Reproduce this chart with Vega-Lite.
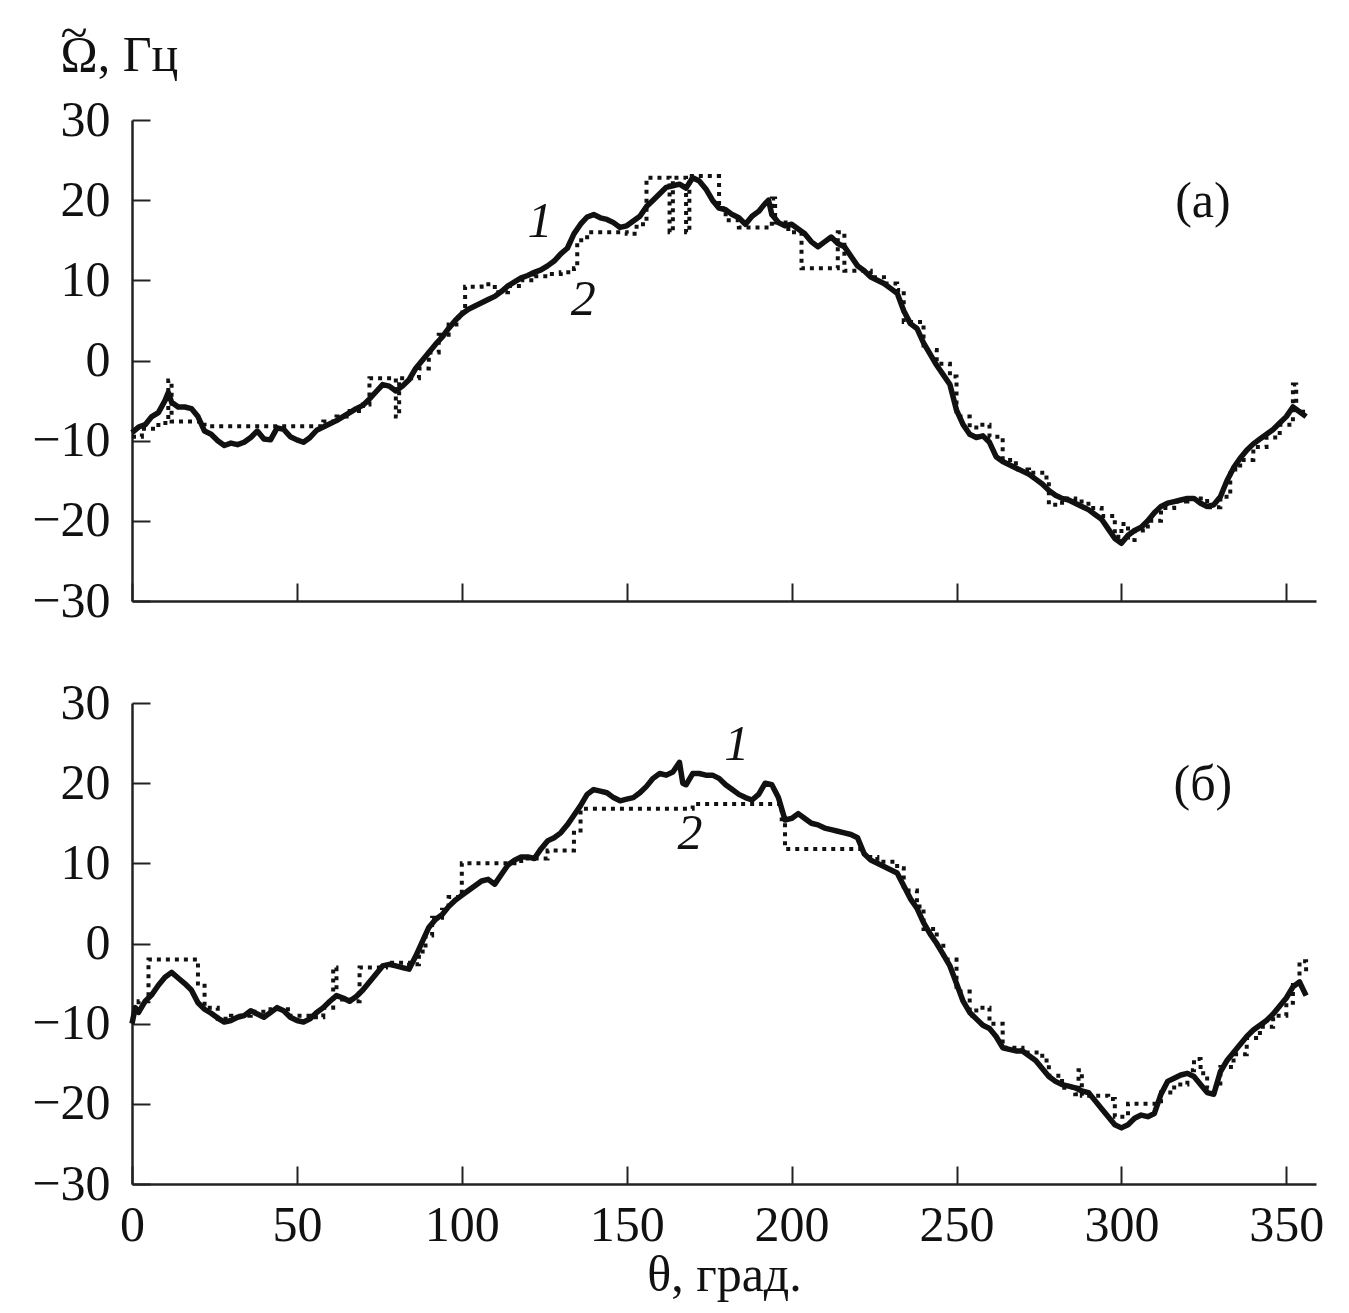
{
  "$schema": "https://vega.github.io/schema/vega-lite/v6.json",
  "padding": {"left": 31, "top": 8, "right": 5, "bottom": 5},
  "background": "white",
  "bounds": "flush",
  "spacing": 102,
  "config": {
    "view": {"stroke": null},
    "axis": {
      "labelFont": "Liberation Serif", "labelFontSize": 50, "labelColor": "#111", "labelFlush": false,
      "titleFont": "Liberation Serif", "titleFontSize": 50, "titleFontWeight": "normal", "titleColor": "#111",
      "domainColor": "#222", "domainWidth": 2.5, "tickColor": "#222", "tickWidth": 2, "tickSize": -18,
      "labelPadding": 40, "grid": false
    },
    "text": {"font": "Liberation Serif", "fontSize": 50, "color": "#111"}
  },
  "datasets": {
    "a1": [
      {"theta":0,"omega":-9.0},{"theta":2,"omega":-8.3},{"theta":4,"omega":-8.0},{"theta":6,"omega":-7.0},{"theta":8,"omega":-6.5},{"theta":10,"omega":-5.0},{"theta":11,"omega":-4.0},{"theta":12,"omega":-5.2},{"theta":14,"omega":-5.8},{"theta":16,"omega":-5.8},{"theta":18,"omega":-6.0},{"theta":20,"omega":-7.0},{"theta":22,"omega":-8.8},{"theta":24,"omega":-9.2},{"theta":26,"omega":-10.0},{"theta":28,"omega":-10.6},{"theta":30,"omega":-10.3},{"theta":32,"omega":-10.5},{"theta":34,"omega":-10.2},{"theta":36,"omega":-9.6},{"theta":38,"omega":-8.8},{"theta":40,"omega":-9.8},{"theta":42,"omega":-9.9},{"theta":44,"omega":-8.4},{"theta":46,"omega":-8.6},{"theta":48,"omega":-9.5},{"theta":50,"omega":-9.9},{"theta":52,"omega":-10.2},{"theta":54,"omega":-9.6},{"theta":56,"omega":-8.7},{"theta":58,"omega":-8.3},{"theta":60,"omega":-7.9},{"theta":62,"omega":-7.5},{"theta":64,"omega":-7.0},{"theta":66,"omega":-6.5},{"theta":68,"omega":-6.0},{"theta":70,"omega":-5.6},{"theta":72,"omega":-4.8},{"theta":74,"omega":-3.9},{"theta":76,"omega":-3.0},{"theta":78,"omega":-3.2},{"theta":80,"omega":-3.8},{"theta":82,"omega":-3.2},{"theta":84,"omega":-2.4},{"theta":86,"omega":-1.0},{"theta":88,"omega":0.0},{"theta":90,"omega":1.0},{"theta":92,"omega":2.0},{"theta":94,"omega":2.9},{"theta":96,"omega":4.0},{"theta":98,"omega":5.0},{"theta":100,"omega":5.8},{"theta":102,"omega":6.4},{"theta":104,"omega":6.8},{"theta":106,"omega":7.2},{"theta":108,"omega":7.6},{"theta":110,"omega":8.0},{"theta":112,"omega":8.6},{"theta":114,"omega":9.3},{"theta":116,"omega":9.8},{"theta":118,"omega":10.3},{"theta":120,"omega":10.6},{"theta":122,"omega":11.0},{"theta":124,"omega":11.3},{"theta":126,"omega":11.8},{"theta":128,"omega":12.4},{"theta":130,"omega":13.3},{"theta":132,"omega":14.0},{"theta":134,"omega":15.8},{"theta":136,"omega":17.0},{"theta":138,"omega":17.9},{"theta":140,"omega":18.2},{"theta":142,"omega":17.8},{"theta":144,"omega":17.6},{"theta":146,"omega":17.2},{"theta":148,"omega":16.6},{"theta":150,"omega":16.8},{"theta":152,"omega":17.4},{"theta":154,"omega":18.0},{"theta":156,"omega":19.2},{"theta":158,"omega":20.0},{"theta":160,"omega":20.8},{"theta":162,"omega":21.6},{"theta":164,"omega":21.8},{"theta":166,"omega":22.0},{"theta":168,"omega":21.5},{"theta":170,"omega":22.8},{"theta":172,"omega":22.4},{"theta":174,"omega":21.4},{"theta":176,"omega":20.0},{"theta":178,"omega":19.0},{"theta":180,"omega":18.8},{"theta":182,"omega":18.2},{"theta":184,"omega":17.8},{"theta":186,"omega":17.0},{"theta":188,"omega":18.0},{"theta":190,"omega":18.6},{"theta":192,"omega":19.6},{"theta":193,"omega":20.0},{"theta":194,"omega":18.2},{"theta":196,"omega":17.2},{"theta":198,"omega":16.8},{"theta":200,"omega":17.0},{"theta":202,"omega":16.4},{"theta":204,"omega":15.8},{"theta":206,"omega":14.8},{"theta":208,"omega":14.2},{"theta":210,"omega":14.8},{"theta":212,"omega":15.4},{"theta":214,"omega":14.6},{"theta":216,"omega":14.2},{"theta":218,"omega":13.0},{"theta":220,"omega":11.8},{"theta":222,"omega":11.2},{"theta":224,"omega":10.4},{"theta":226,"omega":10.0},{"theta":228,"omega":9.6},{"theta":230,"omega":9.0},{"theta":232,"omega":8.4},{"theta":234,"omega":6.2},{"theta":236,"omega":4.6},{"theta":238,"omega":4.0},{"theta":240,"omega":2.2},{"theta":242,"omega":0.8},{"theta":244,"omega":-0.6},{"theta":246,"omega":-1.8},{"theta":248,"omega":-3.0},{"theta":250,"omega":-6.2},{"theta":252,"omega":-8.0},{"theta":254,"omega":-9.2},{"theta":256,"omega":-9.6},{"theta":258,"omega":-9.4},{"theta":260,"omega":-10.2},{"theta":262,"omega":-12.0},{"theta":264,"omega":-12.6},{"theta":266,"omega":-13.0},{"theta":268,"omega":-13.4},{"theta":270,"omega":-13.8},{"theta":272,"omega":-14.2},{"theta":274,"omega":-14.8},{"theta":276,"omega":-15.4},{"theta":278,"omega":-16.2},{"theta":280,"omega":-16.8},{"theta":282,"omega":-17.2},{"theta":284,"omega":-17.4},{"theta":286,"omega":-17.8},{"theta":288,"omega":-18.2},{"theta":290,"omega":-18.6},{"theta":292,"omega":-19.2},{"theta":294,"omega":-19.8},{"theta":296,"omega":-21.0},{"theta":298,"omega":-22.2},{"theta":300,"omega":-22.8},{"theta":302,"omega":-21.8},{"theta":304,"omega":-21.2},{"theta":306,"omega":-20.8},{"theta":308,"omega":-20.0},{"theta":310,"omega":-19.0},{"theta":312,"omega":-18.2},{"theta":314,"omega":-17.8},{"theta":316,"omega":-17.6},{"theta":318,"omega":-17.4},{"theta":320,"omega":-17.2},{"theta":322,"omega":-17.2},{"theta":324,"omega":-17.8},{"theta":326,"omega":-18.2},{"theta":328,"omega":-18.0},{"theta":330,"omega":-17.0},{"theta":332,"omega":-15.0},{"theta":334,"omega":-13.4},{"theta":336,"omega":-12.2},{"theta":338,"omega":-11.2},{"theta":340,"omega":-10.4},{"theta":342,"omega":-9.8},{"theta":344,"omega":-9.2},{"theta":346,"omega":-8.6},{"theta":348,"omega":-7.8},{"theta":350,"omega":-7.0},{"theta":352,"omega":-5.8},{"theta":354,"omega":-6.4},{"theta":356,"omega":-7.0}
    ],
    "a2": [
      {"theta":0,"omega":-9.5},{"theta":3,"omega":-8.5},{"theta":8,"omega":-7.8},{"theta":11,"omega":-2.5},{"theta":12,"omega":-7.6},{"theta":20,"omega":-7.6},{"theta":22,"omega":-8.2},{"theta":55,"omega":-8.2},{"theta":58,"omega":-7.6},{"theta":62,"omega":-7.0},{"theta":66,"omega":-6.3},{"theta":70,"omega":-5.5},{"theta":72,"omega":-2.2},{"theta":78,"omega":-2.2},{"theta":80,"omega":-7.0},{"theta":81,"omega":-2.2},{"theta":85,"omega":-2.2},{"theta":87,"omega":-1.0},{"theta":90,"omega":1.0},{"theta":93,"omega":3.2},{"theta":96,"omega":4.5},{"theta":99,"omega":6.0},{"theta":101,"omega":9.2},{"theta":106,"omega":9.5},{"theta":110,"omega":8.5},{"theta":114,"omega":9.3},{"theta":118,"omega":10.0},{"theta":122,"omega":10.5},{"theta":126,"omega":10.8},{"theta":130,"omega":11.0},{"theta":134,"omega":11.5},{"theta":135,"omega":15.0},{"theta":138,"omega":16.0},{"theta":150,"omega":15.8},{"theta":153,"omega":17.0},{"theta":156,"omega":22.8},{"theta":163,"omega":16.0},{"theta":164,"omega":22.8},{"theta":168,"omega":16.0},{"theta":169,"omega":23.0},{"theta":176,"omega":23.0},{"theta":178,"omega":19.0},{"theta":180,"omega":17.5},{"theta":184,"omega":16.6},{"theta":192,"omega":16.6},{"theta":194,"omega":20.2},{"theta":195,"omega":17.2},{"theta":199,"omega":16.0},{"theta":203,"omega":11.5},{"theta":212,"omega":11.5},{"theta":214,"omega":16.0},{"theta":216,"omega":11.2},{"theta":220,"omega":11.2},{"theta":224,"omega":10.4},{"theta":228,"omega":9.6},{"theta":232,"omega":8.8},{"theta":234,"omega":4.8},{"theta":238,"omega":4.8},{"theta":240,"omega":1.3},{"theta":244,"omega":-0.4},{"theta":248,"omega":-2.0},{"theta":250,"omega":-7.0},{"theta":254,"omega":-9.5},{"theta":256,"omega":-8.0},{"theta":260,"omega":-9.5},{"theta":264,"omega":-12.4},{"theta":268,"omega":-13.6},{"theta":272,"omega":-14.0},{"theta":276,"omega":-14.6},{"theta":278,"omega":-18.0},{"theta":282,"omega":-17.2},{"theta":286,"omega":-17.6},{"theta":290,"omega":-18.4},{"theta":294,"omega":-19.4},{"theta":298,"omega":-22.0},{"theta":300,"omega":-20.4},{"theta":302,"omega":-22.4},{"theta":304,"omega":-21.2},{"theta":308,"omega":-20.0},{"theta":312,"omega":-18.4},{"theta":316,"omega":-17.6},{"theta":320,"omega":-17.2},{"theta":326,"omega":-18.3},{"theta":330,"omega":-17.0},{"theta":333,"omega":-13.6},{"theta":336,"omega":-12.4},{"theta":340,"omega":-10.8},{"theta":344,"omega":-9.6},{"theta":348,"omega":-8.0},{"theta":352,"omega":-3.0},{"theta":353,"omega":-6.4},{"theta":356,"omega":-6.8}
    ],
    "b1": [
      {"theta":0,"omega":-10.0},{"theta":1,"omega":-8.0},{"theta":2,"omega":-8.6},{"theta":4,"omega":-7.2},{"theta":6,"omega":-6.4},{"theta":8,"omega":-5.2},{"theta":10,"omega":-4.2},{"theta":12,"omega":-3.6},{"theta":14,"omega":-4.3},{"theta":16,"omega":-5.0},{"theta":18,"omega":-5.8},{"theta":20,"omega":-7.4},{"theta":22,"omega":-8.2},{"theta":24,"omega":-8.7},{"theta":26,"omega":-9.3},{"theta":28,"omega":-9.8},{"theta":30,"omega":-9.6},{"theta":32,"omega":-9.2},{"theta":34,"omega":-9.0},{"theta":36,"omega":-8.4},{"theta":38,"omega":-8.8},{"theta":40,"omega":-9.2},{"theta":42,"omega":-8.6},{"theta":44,"omega":-8.0},{"theta":46,"omega":-8.4},{"theta":48,"omega":-9.2},{"theta":50,"omega":-9.6},{"theta":52,"omega":-9.8},{"theta":54,"omega":-9.4},{"theta":56,"omega":-8.6},{"theta":58,"omega":-8.0},{"theta":60,"omega":-7.2},{"theta":62,"omega":-6.5},{"theta":64,"omega":-6.8},{"theta":66,"omega":-7.2},{"theta":68,"omega":-6.6},{"theta":70,"omega":-5.8},{"theta":72,"omega":-4.8},{"theta":74,"omega":-3.8},{"theta":76,"omega":-2.8},{"theta":78,"omega":-2.6},{"theta":80,"omega":-2.8},{"theta":82,"omega":-3.0},{"theta":84,"omega":-3.2},{"theta":86,"omega":-1.6},{"theta":88,"omega":0.2},{"theta":90,"omega":2.0},{"theta":92,"omega":3.0},{"theta":94,"omega":3.6},{"theta":96,"omega":4.6},{"theta":98,"omega":5.4},{"theta":100,"omega":6.0},{"theta":102,"omega":6.6},{"theta":104,"omega":7.2},{"theta":106,"omega":7.8},{"theta":108,"omega":8.0},{"theta":110,"omega":7.4},{"theta":112,"omega":8.6},{"theta":114,"omega":9.8},{"theta":116,"omega":10.4},{"theta":118,"omega":10.8},{"theta":120,"omega":10.8},{"theta":122,"omega":10.6},{"theta":124,"omega":11.8},{"theta":126,"omega":12.8},{"theta":128,"omega":13.2},{"theta":130,"omega":13.8},{"theta":132,"omega":14.8},{"theta":134,"omega":16.0},{"theta":136,"omega":17.2},{"theta":138,"omega":18.6},{"theta":140,"omega":19.2},{"theta":142,"omega":19.0},{"theta":144,"omega":18.8},{"theta":146,"omega":18.2},{"theta":148,"omega":17.8},{"theta":150,"omega":18.0},{"theta":152,"omega":18.2},{"theta":154,"omega":18.8},{"theta":156,"omega":19.6},{"theta":158,"omega":20.6},{"theta":160,"omega":21.2},{"theta":162,"omega":21.0},{"theta":164,"omega":21.4},{"theta":166,"omega":22.6},{"theta":167,"omega":20.0},{"theta":168,"omega":19.8},{"theta":170,"omega":21.2},{"theta":172,"omega":21.2},{"theta":174,"omega":21.0},{"theta":176,"omega":21.0},{"theta":178,"omega":20.6},{"theta":180,"omega":19.8},{"theta":182,"omega":19.2},{"theta":184,"omega":18.6},{"theta":186,"omega":18.2},{"theta":188,"omega":17.9},{"theta":190,"omega":18.6},{"theta":192,"omega":20.0},{"theta":194,"omega":19.8},{"theta":196,"omega":18.2},{"theta":198,"omega":15.4},{"theta":200,"omega":15.6},{"theta":202,"omega":16.2},{"theta":204,"omega":15.6},{"theta":206,"omega":15.0},{"theta":208,"omega":14.8},{"theta":210,"omega":14.4},{"theta":212,"omega":14.2},{"theta":214,"omega":14.0},{"theta":216,"omega":13.8},{"theta":218,"omega":13.6},{"theta":220,"omega":13.2},{"theta":222,"omega":11.2},{"theta":224,"omega":10.4},{"theta":226,"omega":10.0},{"theta":228,"omega":9.6},{"theta":230,"omega":9.2},{"theta":232,"omega":8.8},{"theta":234,"omega":7.2},{"theta":236,"omega":5.6},{"theta":238,"omega":4.4},{"theta":240,"omega":2.6},{"theta":242,"omega":1.2},{"theta":244,"omega":0.0},{"theta":246,"omega":-1.4},{"theta":248,"omega":-2.8},{"theta":250,"omega":-5.0},{"theta":252,"omega":-7.2},{"theta":254,"omega":-8.6},{"theta":256,"omega":-9.4},{"theta":258,"omega":-10.2},{"theta":260,"omega":-10.6},{"theta":262,"omega":-11.6},{"theta":264,"omega":-13.0},{"theta":266,"omega":-13.2},{"theta":268,"omega":-13.4},{"theta":270,"omega":-13.4},{"theta":272,"omega":-14.0},{"theta":274,"omega":-14.6},{"theta":276,"omega":-15.6},{"theta":278,"omega":-16.6},{"theta":280,"omega":-17.2},{"theta":282,"omega":-17.6},{"theta":284,"omega":-17.8},{"theta":286,"omega":-18.0},{"theta":288,"omega":-18.4},{"theta":290,"omega":-18.6},{"theta":292,"omega":-19.6},{"theta":294,"omega":-20.6},{"theta":296,"omega":-21.6},{"theta":298,"omega":-22.6},{"theta":300,"omega":-23.0},{"theta":302,"omega":-22.6},{"theta":304,"omega":-21.8},{"theta":306,"omega":-21.4},{"theta":308,"omega":-21.6},{"theta":310,"omega":-21.2},{"theta":312,"omega":-18.8},{"theta":314,"omega":-17.2},{"theta":316,"omega":-16.8},{"theta":318,"omega":-16.4},{"theta":320,"omega":-16.2},{"theta":322,"omega":-16.6},{"theta":324,"omega":-17.6},{"theta":326,"omega":-18.6},{"theta":328,"omega":-18.8},{"theta":330,"omega":-16.0},{"theta":332,"omega":-14.6},{"theta":334,"omega":-13.6},{"theta":336,"omega":-12.6},{"theta":338,"omega":-11.6},{"theta":340,"omega":-10.8},{"theta":342,"omega":-10.2},{"theta":344,"omega":-9.6},{"theta":346,"omega":-8.8},{"theta":348,"omega":-7.8},{"theta":350,"omega":-6.8},{"theta":352,"omega":-5.4},{"theta":354,"omega":-4.8},{"theta":356,"omega":-6.5}
    ],
    "b2": [
      {"theta":0,"omega":-9.0},{"theta":2,"omega":-7.2},{"theta":5,"omega":-2.0},{"theta":18,"omega":-2.0},{"theta":20,"omega":-5.0},{"theta":22,"omega":-8.0},{"theta":26,"omega":-9.4},{"theta":30,"omega":-9.0},{"theta":36,"omega":-8.5},{"theta":42,"omega":-8.2},{"theta":48,"omega":-9.0},{"theta":54,"omega":-9.2},{"theta":58,"omega":-8.0},{"theta":61,"omega":-3.0},{"theta":62,"omega":-7.0},{"theta":66,"omega":-7.2},{"theta":69,"omega":-3.0},{"theta":75,"omega":-3.0},{"theta":77,"omega":-2.4},{"theta":84,"omega":-2.6},{"theta":87,"omega":-1.0},{"theta":89,"omega":1.0},{"theta":91,"omega":3.2},{"theta":94,"omega":4.2},{"theta":96,"omega":5.8},{"theta":100,"omega":10.0},{"theta":114,"omega":10.0},{"theta":118,"omega":10.6},{"theta":122,"omega":10.6},{"theta":126,"omega":11.6},{"theta":132,"omega":11.6},{"theta":134,"omega":13.8},{"theta":136,"omega":16.8},{"theta":166,"omega":16.8},{"theta":170,"omega":17.4},{"theta":196,"omega":17.4},{"theta":197,"omega":15.5},{"theta":198,"omega":11.8},{"theta":220,"omega":11.8},{"theta":222,"omega":10.8},{"theta":226,"omega":10.2},{"theta":232,"omega":9.4},{"theta":234,"omega":6.6},{"theta":238,"omega":4.6},{"theta":240,"omega":1.8},{"theta":244,"omega":0.0},{"theta":246,"omega":-2.0},{"theta":250,"omega":-6.0},{"theta":254,"omega":-9.0},{"theta":256,"omega":-8.0},{"theta":260,"omega":-10.0},{"theta":264,"omega":-13.0},{"theta":270,"omega":-13.6},{"theta":276,"omega":-14.6},{"theta":278,"omega":-16.5},{"theta":282,"omega":-18.0},{"theta":286,"omega":-18.8},{"theta":287,"omega":-15.8},{"theta":288,"omega":-19.0},{"theta":296,"omega":-19.4},{"theta":298,"omega":-21.6},{"theta":302,"omega":-20.0},{"theta":310,"omega":-20.0},{"theta":312,"omega":-18.6},{"theta":316,"omega":-17.6},{"theta":320,"omega":-15.8},{"theta":322,"omega":-14.4},{"theta":324,"omega":-16.2},{"theta":326,"omega":-18.0},{"theta":330,"omega":-15.4},{"theta":334,"omega":-13.8},{"theta":338,"omega":-11.8},{"theta":342,"omega":-10.4},{"theta":346,"omega":-9.0},{"theta":350,"omega":-7.4},{"theta":352,"omega":-4.8},{"theta":354,"omega":-2.2},{"theta":356,"omega":-4.0}
    ],
    "labels": [
      {"panel":"a","label":"1","kind":"curve","theta":123.7,"omega":17.3},
      {"panel":"a","label":"2","kind":"curve","theta":136.8,"omega":7.5},
      {"panel":"a","label":"(a)","kind":"panel","theta":324.7,"omega":19.8},
      {"panel":"b","label":"1","kind":"curve","theta":183.4,"omega":24.8},
      {"panel":"b","label":"2","kind":"curve","theta":169.2,"omega":13.6},
      {"panel":"b","label":"(б)","kind":"panel","theta":324.7,"omega":19.8}
    ]
  },
  "vconcat": [
    {
      "width": 1184, "height": 481,
      "encoding": {
        "x": {"field": "theta", "type": "quantitative", "scale": {"domain": [0, 359], "nice": false, "zero": false},
              "axis": {"values": [0, 50, 100, 150, 200, 250, 300, 350], "labels": false, "title": null}},
        "y": {"field": "omega", "type": "quantitative", "scale": {"domain": [-30, 30], "nice": false},
              "axis": {"values": [-30, -20, -10, 0, 10, 20, 30], "title": ["~", "Ω, Гц"], "titleLineHeight": 22, "titleAngle": 0, "titleAlign": "left", "titleBaseline": "alphabetic", "titleX": -72, "titleY": -72}}
      },
      "layer": [
        {"data": {"name": "a2"}, "mark": {"type": "line", "color": "#111", "strokeWidth": 4, "strokeDash": [4, 5], "interpolate": "step-after"}},
        {"data": {"name": "a1"}, "mark": {"type": "line", "color": "#111", "strokeWidth": 5.5, "strokeJoin": "round"}},
        {"data": {"name": "labels"}, "transform": [{"filter": "datum.panel === 'a' && datum.kind === 'curve'"}],
         "mark": {"type": "text", "fontStyle": "italic", "baseline": "middle", "align": "center"},
         "encoding": {"text": {"field": "label"}}},
        {"data": {"name": "labels"}, "transform": [{"filter": "datum.panel === 'a' && datum.kind === 'panel'"}],
         "mark": {"type": "text", "baseline": "middle", "align": "center"},
         "encoding": {"text": {"field": "label"}}}
      ]
    },
    {
      "width": 1184, "height": 481,
      "encoding": {
        "x": {"field": "theta", "type": "quantitative", "scale": {"domain": [0, 359], "nice": false, "zero": false},
              "axis": {"values": [0, 50, 100, 150, 200, 250, 300, 350], "title": "θ, град.", "titlePadding": 0, "labelPadding": 34}},
        "y": {"field": "omega", "type": "quantitative", "scale": {"domain": [-30, 30], "nice": false},
              "axis": {"values": [-30, -20, -10, 0, 10, 20, 30], "title": null}}
      },
      "layer": [
        {"data": {"name": "b2"}, "mark": {"type": "line", "color": "#111", "strokeWidth": 4, "strokeDash": [4, 5], "interpolate": "step-after"}},
        {"data": {"name": "b1"}, "mark": {"type": "line", "color": "#111", "strokeWidth": 5.5, "strokeJoin": "round"}},
        {"data": {"name": "labels"}, "transform": [{"filter": "datum.panel === 'b' && datum.kind === 'curve'"}],
         "mark": {"type": "text", "fontStyle": "italic", "baseline": "middle", "align": "center"},
         "encoding": {"text": {"field": "label"}}},
        {"data": {"name": "labels"}, "transform": [{"filter": "datum.panel === 'b' && datum.kind === 'panel'"}],
         "mark": {"type": "text", "baseline": "middle", "align": "center"},
         "encoding": {"text": {"field": "label"}}}
      ]
    }
  ]
}
